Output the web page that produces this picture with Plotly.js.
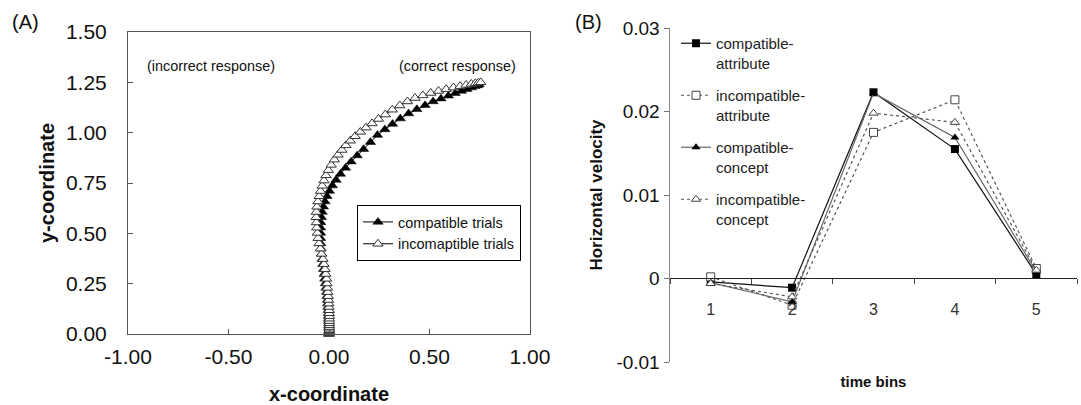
<!DOCTYPE html>
<html>
<head>
<meta charset="utf-8">
<script src="https://cdn.plot.ly/plotly-3.0.1.min.js"></script>
<style>html,body{margin:0;padding:0;background:#fff;}#chart{width:1081px;height:405px;}</style>
</head>
<body>
<div id="chart"></div>
<script>
// ---- Panel A: mouse trajectories ----
const compX = [0,0,0,0,0,0,-0.001,-0.001,-0.001,-0.002,-0.002,-0.003,-0.003,-0.004,-0.005,-0.007,-0.008,-0.010,-0.012,-0.015,-0.018,-0.021,-0.024,-0.027,-0.031,-0.034,-0.037,-0.039,-0.041,-0.042,-0.042,-0.042,-0.041,-0.038,-0.034,-0.028,-0.020,-0.010,0.002,0.017,0.035,0.057,0.082,0.110,0.140,0.172,0.206,0.241,0.278,0.316,0.355,0.396,0.437,0.478,0.518,0.557,0.594,0.628,0.659,0.686,0.708,0.724,0.735,0.742,0.746];
const compY = [0,0.004,0.008,0.013,0.019,0.026,0.034,0.043,0.053,0.064,0.076,0.089,0.103,0.118,0.134,0.151,0.169,0.188,0.208,0.229,0.251,0.274,0.298,0.322,0.347,0.372,0.398,0.424,0.450,0.476,0.502,0.528,0.554,0.580,0.606,0.632,0.658,0.684,0.710,0.737,0.765,0.795,0.825,0.856,0.886,0.918,0.953,0.988,1.016,1.043,1.070,1.095,1.116,1.136,1.155,1.169,1.183,1.196,1.207,1.216,1.224,1.230,1.234,1.237,1.240];
const incX = [0,0,0.001,0.001,0.001,0.002,0.002,0.002,0.002,0.002,0.002,0.002,0.001,0.001,0,-0.001,-0.002,-0.004,-0.006,-0.008,-0.010,-0.012,-0.016,-0.020,-0.025,-0.030,-0.037,-0.043,-0.049,-0.054,-0.058,-0.061,-0.063,-0.064,-0.063,-0.060,-0.055,-0.049,-0.042,-0.034,-0.025,-0.015,-0.003,0.011,0.027,0.045,0.064,0.084,0.106,0.130,0.156,0.184,0.214,0.246,0.280,0.315,0.352,0.390,0.428,0.467,0.506,0.545,0.583,0.619,0.652,0.682,0.708,0.728,0.743,0.755];
const incY = [0,0.004,0.008,0.013,0.019,0.026,0.034,0.043,0.053,0.064,0.076,0.089,0.103,0.118,0.134,0.151,0.169,0.188,0.208,0.229,0.251,0.274,0.298,0.322,0.347,0.372,0.398,0.424,0.450,0.476,0.502,0.528,0.554,0.580,0.606,0.632,0.658,0.684,0.710,0.736,0.762,0.788,0.814,0.840,0.866,0.890,0.914,0.937,0.960,0.982,1.004,1.025,1.046,1.068,1.090,1.114,1.135,1.155,1.172,1.185,1.197,1.207,1.216,1.224,1.231,1.237,1.242,1.245,1.248,1.250];
const aXTicks = [-1, -0.5, 0, 0.5, 1];
const aXLabels = ["-1.00", "-0.50", "0.00", "0.50", "1.00"];
const aYTicks = [0, 0.25, 0.5, 0.75, 1, 1.25, 1.5];
const aYLabels = ["0.00", "0.25", "0.50", "0.75", "1.00", "1.25", "1.50"];

// ---- Panel B: horizontal velocity ----
const bins = ["1", "2", "3", "4", "5"];
const compAttr = [-0.0004, -0.0011, 0.0223, 0.0155, 0.0005];
const incompAttr = [0.0002, -0.0032, 0.0175, 0.0214, 0.0012];
const compConcept = [-0.0005, -0.0028, 0.0222, 0.0169, 0.0008];
const incompConcept = [-0.0006, -0.0022, 0.0198, 0.0187, 0.0010];
const bYTicks = [-0.01, 0, 0.01, 0.02, 0.03];
const bYLabels = ["-0.01", "0", "0.01", "0.02", "0.03"];

const F = "Liberation Sans, Arial, sans-serif";
const W = 1081, H = 405;
const px = v => v / W, py = v => (H - v) / H;

const traces = [
  {x: compX, y: compY, xaxis: 'x', yaxis: 'y', mode: 'lines+markers', name: 'compatible trials',
   line: {color: '#000', width: 1}, marker: {symbol: 'triangle-up', size: 9, color: '#000', line: {color: '#000', width: 0.5}},
   cliponaxis: false, legend: 'legend'},
  {x: incX, y: incY, xaxis: 'x', yaxis: 'y', mode: 'lines+markers', name: 'incomaptible trials',
   line: {color: '#000', width: 1}, marker: {symbol: 'triangle-up', size: 9, color: '#fff', line: {color: '#333', width: 1}},
   cliponaxis: false, legend: 'legend'},
  {x: bins, y: compAttr, xaxis: 'x2', yaxis: 'y2', mode: 'lines+markers', name: 'compatible-<br>attribute',
   line: {color: '#111', width: 1.2}, marker: {symbol: 'square', size: 8, color: '#000'},
   cliponaxis: false, legend: 'legend2', legendgroup: 'g1'},
  {x: bins, y: incompAttr, xaxis: 'x2', yaxis: 'y2', mode: 'lines+markers', name: 'incompatible-<br>attribute',
   line: {color: '#555', width: 1.2, dash: '3px,3px'}, marker: {symbol: 'square', size: 8, color: '#fff', line: {color: '#444', width: 1}},
   cliponaxis: false, legend: 'legend2', legendgroup: 'g2'},
  {x: bins, y: compConcept, xaxis: 'x2', yaxis: 'y2', mode: 'lines+markers', name: 'compatible-<br>concept',
   line: {color: '#666', width: 1.2}, marker: {symbol: 'triangle-up', size: 8, color: '#000'},
   cliponaxis: false, legend: 'legend2', legendgroup: 'g3'},
  {x: bins, y: incompConcept, xaxis: 'x2', yaxis: 'y2', mode: 'lines+markers', name: 'incompatible-<br>concept',
   line: {color: '#555', width: 1.2, dash: '3px,3px'}, marker: {symbol: 'triangle-up', size: 8, color: '#fff', line: {color: '#444', width: 1}},
   cliponaxis: false, legend: 'legend2', legendgroup: 'g4'}
];

const layout = {
  width: W, height: H,
  margin: {l: 0, r: 0, t: 0, b: 0},
  paper_bgcolor: '#fff', plot_bgcolor: 'rgba(0,0,0,0)',
  font: {family: F, color: '#111'},
  showlegend: true,
  xaxis: {
    domain: [px(128), px(530)], anchor: 'y', range: [-1, 1],
    tickvals: aXTicks, ticktext: aXLabels, ticks: 'inside', ticklen: 5, tickcolor: '#555',
    showline: true, mirror: true, linecolor: '#555', linewidth: 1,
    showgrid: false, zeroline: false, automargin: false, ticklabelstandoff: 4,
    tickfont: {family: F, size: 21, color: '#111'},
    title: {text: 'x-coordinate', font: {family: F, size: 20, weight: 'bold', color: '#111'}, standoff: 24}
  },
  yaxis: {
    domain: [py(334), py(32)], anchor: 'x', range: [0, 1.5],
    tickvals: aYTicks, ticktext: aYLabels, ticks: 'inside', ticklen: 5, tickcolor: '#555',
    showline: true, mirror: true, linecolor: '#555', linewidth: 1,
    showgrid: false, zeroline: false, automargin: false, ticklabelstandoff: 16,
    tickfont: {family: F, size: 21, color: '#111'},
    title: {text: 'y-coordinate', font: {family: F, size: 20, weight: 'bold', color: '#111'}, standoff: 5}
  },
  xaxis2: {
    domain: [px(670), px(1077)], anchor: 'free', position: py(278), type: 'category',
    range: [-0.5, 4.5], tickson: 'boundaries', ticks: 'outside', ticklen: 5, tickcolor: '#444',
    showline: true, linecolor: '#222', linewidth: 1, showgrid: false, zeroline: false, automargin: false,
    ticklabelstandoff: 17,
    tickfont: {family: F, size: 16, color: '#333'},
    title: {text: 'time bins', font: {family: F, size: 15, weight: 'bold', color: '#111'}, standoff: 59}
  },
  yaxis2: {
    domain: [py(362), py(28)], anchor: 'x2', range: [-0.01, 0.03],
    tickvals: bYTicks, ticktext: bYLabels, ticks: 'outside', ticklen: 5, tickcolor: '#777',
    showline: true, linecolor: '#888', linewidth: 1.5, showgrid: false, zeroline: false, automargin: false,
    tickfont: {family: F, size: 19, color: '#111'},
    title: {text: 'Horizontal velocity', font: {family: F, size: 17, weight: 'bold', color: '#111'}, standoff: 9}
  },
  legend: {
    x: px(357), y: py(205), xanchor: 'left', yanchor: 'top',
    bgcolor: '#fff', bordercolor: '#000', borderwidth: 1,
    font: {family: F, size: 14.5, color: '#111'}, tracegroupgap: 0
  },
  legend2: {
    x: px(676), y: py(27), xanchor: 'left', yanchor: 'top',
    bgcolor: 'rgba(255,255,255,0)', borderwidth: 0,
    font: {family: F, size: 15, color: '#222'}, valign: 'top', tracegroupgap: 10
  },
  annotations: [
    {xref: 'paper', yref: 'paper', x: px(25), y: py(22), xanchor: 'center', yanchor: 'middle', text: '(A)', showarrow: false, font: {family: F, size: 20, color: '#111'}},
    {xref: 'paper', yref: 'paper', x: px(588), y: py(22), xanchor: 'center', yanchor: 'middle', text: '(B)', showarrow: false, font: {family: F, size: 20, color: '#111'}},
    {xref: 'x', yref: 'y', x: -0.587, y: 1.33, text: '(incorrect response)', showarrow: false, font: {family: F, size: 14.4, color: '#111'}},
    {xref: 'x', yref: 'y', x: 0.637, y: 1.33, text: '(correct response)', showarrow: false, font: {family: F, size: 14.4, color: '#111'}}
  ]
};

Plotly.newPlot('chart', traces, layout, {staticPlot: true, displayModeBar: false});
</script>
</body>
</html>
